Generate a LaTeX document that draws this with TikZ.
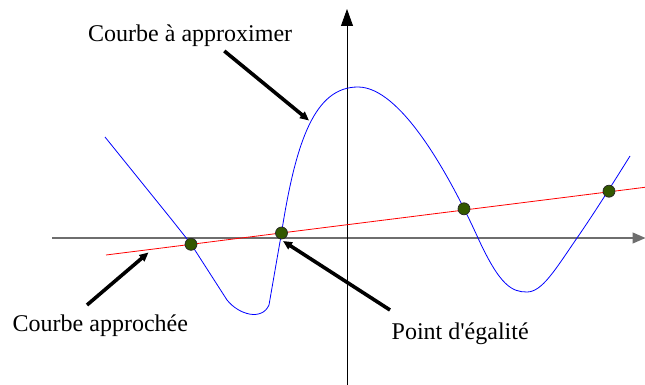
\documentclass[tikz,border=0pt]{standalone}
\usepackage{fontspec}
\setmainfont{Liberation Serif}
\usetikzlibrary{arrows.meta}
\definecolor{dotgreen}{RGB}{51,88,0}
\definecolor{axisgray}{RGB}{110,110,110}
\tikzset{
  lbl/.style={anchor=base west, inner sep=0pt, font=\fontsize{24}{28}\selectfont},
  pointer/.style={line width=3.6pt, black, -{Triangle[length=9pt,width=8pt]}},
  dotmark/.style={circle, minimum size=12pt, inner sep=0pt, fill=dotgreen, draw=black!85, line width=0.7pt},
  curve/.style={blue, line width=0.8pt},
  approx/.style={red, line width=0.8pt},
}
\begin{document}
\begin{tikzpicture}[x=1pt,y=-1pt]
\useasboundingbox (0,0) rectangle (645,385);
% axes
\coordinate (xs) at (52,238);
\coordinate (xe) at (645,238);
\coordinate (ys) at (347,385);
\coordinate (ye) at (347,9);
\draw[axisgray, line width=1.3pt, -{Triangle[length=13pt,width=11pt]}, shorten >=-0.5pt] (xs) -- (xe);
\draw[black, line width=0.8pt, -{Triangle[length=17pt,width=12pt]}] (ys) -- (ye);
% blue curve
\draw[curve, line join=round] (105,137) -- (172,220) -- (191,244) -- (227,300)
  .. controls (239,315) and (262,321) .. (269,305)
  -- (281.5,233)
  .. controls (296,140) and (315,87) .. (358,87)
  .. controls (400,87) and (448,172) .. (478,238)
  .. controls (500,286) and (512,292) .. (527,292)
  .. controls (542,292) and (555,270) .. (577,238)
  .. controls (595,212) and (615,180) .. (630,156);
% red line
\coordinate (rs) at (106,255);
\coordinate (re) at (645,187.3);
\draw[approx] (rs) -- (re);
% points
\node[dotmark] (p1) at (191,244.3) {};
\node[dotmark] (p2) at (281.5,233) {};
\node[dotmark] (p3) at (464,208.8) {};
\node[dotmark] (p4) at (609,191.2) {};
% labels
\node[lbl] (t1) at (88,41.7) {Courbe à approximer};
\node[lbl] (t2) at (12.5,331) {Courbe approchée};
\node[lbl] (t3) at (391.5,339.3) {Point d\textquotesingle égalité};
% pointers
\coordinate (a1s) at (224.3,51);
\coordinate (a1e) at (309,120.5);
\coordinate (a2s) at (87,305);
\coordinate (a2e) at (148.5,252.5);
\coordinate (a3s) at (390,310);
\coordinate (a3e) at (283,241);
\draw[pointer] (a1s) -- (a1e);
\draw[pointer] (a2s) -- (a2e);
\draw[pointer] (a3s) -- (a3e);
\end{tikzpicture}
\end{document}
